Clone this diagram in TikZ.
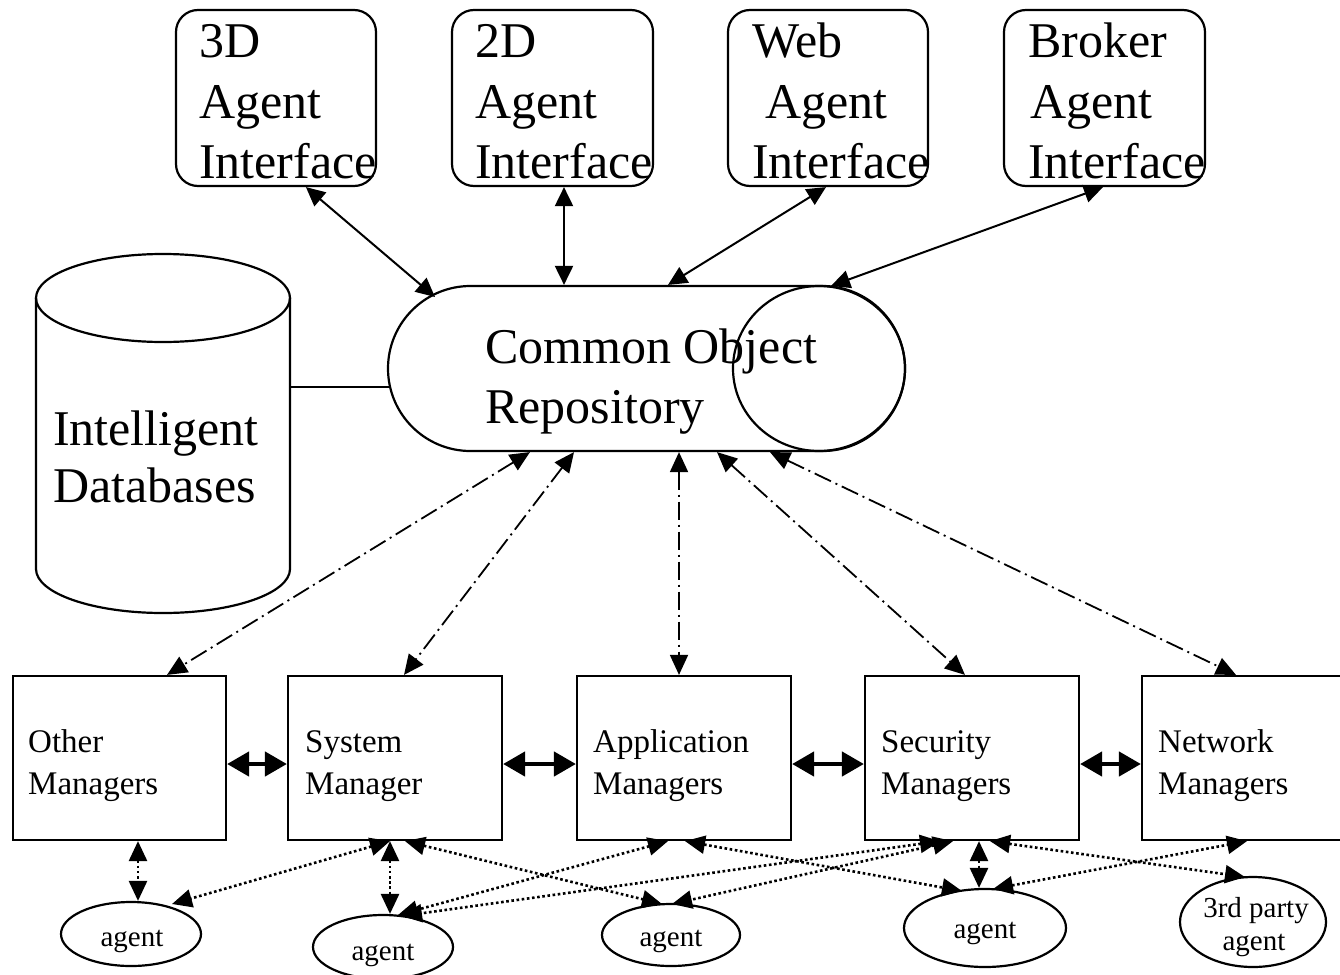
\documentclass[tikz,border=0pt]{standalone}
\usepackage{fontspec}
\setmainfont{Liberation Serif}
\usetikzlibrary{arrows.meta,shapes.geometric,shapes.misc,calc}
\begin{document}
\begin{tikzpicture}[x=1pt,y=-1pt,
  outline/.style={draw=black, line width=2.2pt},
  topbox/.style={outline, rounded corners=22pt, minimum width=200pt, minimum height=176pt, inner sep=0pt},
  mgrbox/.style={outline, minimum width=213pt, minimum height=164pt, inner sep=0pt},
  agentell/.style={outline, ellipse, inner sep=0pt},
  bigtxt/.style={font=\fontsize{50}{60}\selectfont, anchor=base west, inner sep=0pt},
  mgrtxt/.style={font=\fontsize{33}{43}\selectfont, anchor=base west, inner sep=0pt},
  agtxt/.style={font=\fontsize{29}{33}\selectfont, anchor=base, inner sep=0pt},
  solidarr/.style={line width=2pt, {Triangle[length=19pt,width=18pt]}-{Triangle[length=19pt,width=18pt]}},
  dasharr/.style={line width=1.8pt, dash pattern=on 18pt off 5pt on 2pt off 5pt, {Triangle[length=20pt,width=18pt]}-{Triangle[length=20pt,width=18pt]}},
  dotarr/.style={line width=2.6pt, dash pattern=on 2.6pt off 2.6pt, {Triangle[length=20pt,width=18pt]}-{Triangle[length=20pt,width=18pt]}},
  thickarr/.style={line width=4.5pt, {Triangle[length=22pt,width=24pt]}-{Triangle[length=22pt,width=24pt]}},
]
\useasboundingbox (0,0) rectangle (1340,974);
\fill[white] (0,0) rectangle (1340,974);

% Intelligent Databases cylinder
\draw[outline] (163,298) ellipse [x radius=127pt, y radius=44pt];
\draw[outline] (36,298) -- (36,569) arc[start angle=180, end angle=360, x radius=127pt, y radius=44pt] -- (290,298);
\node[bigtxt] (dbt1) at (53,445) {Intelligent};
\node[bigtxt] (dbt2) at (53,502) {Databases};
\coordinate (dbR) at (290,387);

% Common Object Repository
\node[outline, rounded rectangle, minimum width=517pt, minimum height=165pt, inner sep=0pt] (repo) at (646.5,368.5) {};
\node[outline, ellipse, minimum width=172pt, minimum height=165pt, inner sep=0pt] (cap) at (819,368.5) {};
\node[bigtxt] (rt1) at (485,363) {Common Object};
\node[bigtxt] (rt2) at (485,423) {Repository};
\draw[outline] (dbR) -- ($(repo.west)+(2,18.5)$);

% top interface boxes
\node[topbox] (b3d) at (276,98) {};
\node[topbox, minimum width=201pt] (b2d) at (552.5,98) {};
\node[topbox] (bweb) at (828,98) {};
\node[topbox, minimum width=201pt] (bbrk) at (1104.5,98) {};
\node[bigtxt] (t3a) at (199,58) {3D};
\node[bigtxt] (t3b) at (199,118) {Agent};
\node[bigtxt] (t3c) at (199,178) {Interface};
\node[bigtxt] (t2a) at (475,58) {2D};
\node[bigtxt] (t2b) at (475,118) {Agent};
\node[bigtxt] (t2c) at (475,178) {Interface};
\node[bigtxt] (twa) at (752,58) {Web};
\node[bigtxt] (twb) at (765,118) {Agent};
\node[bigtxt] (twc) at (752,178) {Interface};
\node[bigtxt] (tba) at (1028,58) {Broker};
\node[bigtxt] (tbb) at (1030,118) {Agent};
\node[bigtxt] (tbc) at (1028,178) {Interface};

\draw[solidarr] ($(b3d.south west)+(131,0)$) -- ($(repo.center)+(-211.5,-71.5)$);
\draw[solidarr] ($(b2d.south)+(11.5,0)$) -- ($(repo.north)+(-82.5,0)$);
\draw[solidarr] ($(bweb.south)+(-2,0)$) -- ($(repo.north)+(21.5,0)$);
\draw[solidarr] ($(bbrk.south)+(-1.5,0)$) -- ($(cap.north)+(12,1)$);

% manager boxes
\node[mgrbox] (om) at (119.5,758) {};
\node[mgrbox, minimum width=214pt] (sm) at (395,758) {};
\node[mgrbox, minimum width=214pt] (am) at (684,758) {};
\node[mgrbox, minimum width=214pt] (secm) at (972,758) {};
\node[mgrbox] (nm) at (1248.5,758) {};
\node[mgrtxt] (omt1) at (28,752) {Other};
\node[mgrtxt] (omt2) at (28,794) {Managers};
\node[mgrtxt] (smt1) at (305,752) {System};
\node[mgrtxt] (smt2) at (305,794) {Manager};
\node[mgrtxt] (amt1) at (593,752) {Application};
\node[mgrtxt] (amt2) at (593,794) {Managers};
\node[mgrtxt] (sect1) at (881,752) {Security};
\node[mgrtxt] (sect2) at (881,794) {Managers};
\node[mgrtxt] (nmt1) at (1158,752) {Network};
\node[mgrtxt] (nmt2) at (1158,794) {Managers};

\draw[thickarr] ($(om.east)+(0,6)$) -- ($(sm.west)+(0,6)$);
\draw[thickarr] ($(sm.east)+(0,6)$) -- ($(am.west)+(0,6)$);
\draw[thickarr] ($(am.east)+(0,6)$) -- ($(secm.west)+(0,6)$);
\draw[thickarr] ($(secm.east)+(0,6)$) -- ($(nm.west)+(0,6)$);

% dash-dot links repository <-> managers
\draw[dasharr] ($(repo.south)+(-116.5,0)$) -- ($(om.north)+(47.5,0)$);
\draw[dasharr] ($(repo.south)+(-72.5,0)$) -- ($(sm.north)+(9,0)$);
\draw[dasharr] ($(repo.south)+(32.5,0)$) -- ($(am.north)+(-5,0)$);
\draw[dasharr] ($(repo.south)+(70.5,0)$) -- ($(secm.north)+(-7,0)$);
\draw[dasharr] ($(repo.south)+(123.5,0)$) -- ($(nm.north)+(-12.5,0)$);

% agents
\node[agentell, minimum width=140pt, minimum height=64pt] (ag1) at (131,934) {};
\node[agentell, minimum width=140pt, minimum height=64pt] (ag2) at (383,947) {};
\node[agentell, minimum width=138pt, minimum height=62pt] (ag3) at (671,935) {};
\node[agentell, minimum width=162pt, minimum height=78pt] (ag4) at (985,928) {};
\node[agentell, minimum width=146pt, minimum height=90pt] (ag5) at (1253,922) {};
\node[agtxt] (ag1t) at (132,946) {agent};
\node[agtxt] (ag2t) at (383,960) {agent};
\node[agtxt] (ag3t) at (671,946) {agent};
\node[agtxt] (ag4t) at (985,938) {agent};
\node[agtxt] (ag5t1) at (1256,917) {3rd party};
\node[agtxt] (ag5t2) at (1254,950) {agent};

% dotted links managers <-> agents
\draw[dotarr] ($(om.south)+(18.5,0)$) -- ($(ag1.north)+(7,0)$);
\draw[dotarr] ($(sm.south)+(-5,0)$) -- ($(ag1.center)+(41,-30)$);
\draw[dotarr] ($(sm.south)+(-5,0)$) -- ($(ag2.north)+(7,0)$);
\draw[dotarr] ($(sm.south)+(10,0)$) -- ($(ag3.center)+(-9,-31)$);
\draw[dotarr] ($(am.south)+(-16,0)$) -- ($(ag2.center)+(15,-32)$);
\draw[dotarr] ($(secm.south)+(-32,0)$) -- ($(ag2.center)+(19,-31)$);
\draw[dotarr] ($(am.south)+(1,0)$) -- ($(ag4.center)+(-23,-37)$);
\draw[dotarr] ($(secm.south)+(-19,0)$) -- ($(ag3.center)+(1,-31)$);
\draw[dotarr] ($(secm.south)+(7,0)$) -- ($(ag4.north)+(-6,0)$);
\draw[dotarr] ($(ag4.center)+(8,-39)$) -- ($(nm.south)+(-1.5,0)$);
\draw[dotarr] ($(secm.south)+(18,0)$) -- ($(ag5.center)+(-8,-45)$);
\end{tikzpicture}
\end{document}
